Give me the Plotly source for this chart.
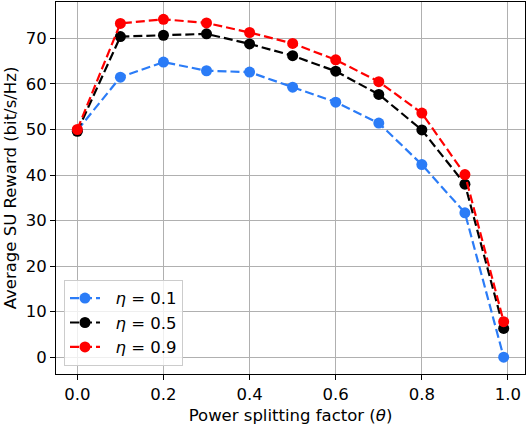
import plotly.graph_objs as go

# =============================================================================
# Data
# =============================================================================

theta = [0.0, 0.1, 0.2, 0.3, 0.4, 0.5, 0.6, 0.7, 0.8, 0.9, 0.99]

reward_eta_01 = [49.8, 61.5, 64.8, 62.9, 62.6, 59.3, 56.0, 51.4, 42.3, 31.7, 0.0]
reward_eta_05 = [49.6, 70.4, 70.7, 71.0, 68.8, 66.2, 62.8, 57.7, 49.9, 38.0, 6.3]
reward_eta_09 = [50.0, 73.3, 74.2, 73.4, 71.3, 68.9, 65.3, 60.5, 53.6, 40.1, 7.8]

names = ["<i>η</i> = 0.1", "<i>η</i> = 0.5", "<i>η</i> = 0.9"]
colors = ["#2b7cf7", "#000000", "#ff0000"]

x_ticks = [0.0, 0.2, 0.4, 0.6, 0.8, 1.0]
y_ticks = [0, 10, 20, 30, 40, 50, 60, 70]

FONT = "DejaVu Sans"

# =============================================================================
# Figure
# =============================================================================

fig = go.Figure()
for name, values, color in zip(names, [reward_eta_01, reward_eta_05, reward_eta_09], colors):
    fig.add_trace(go.Scatter(
        x=theta,
        y=values,
        # small leading gap between the legend symbol and the label
        name="&nbsp;&nbsp;" + name,
        mode="lines+markers",
        line=dict(color=color, width=2.2, dash="9px,4px"),
        marker=dict(color=color, size=11),
    ))

axis_common = dict(
    showgrid=True,
    gridcolor="#b0b0b0",
    gridwidth=1,
    showline=True,
    linecolor="black",
    linewidth=1,
    mirror=True,
    ticks="outside",
    ticklen=5,
    tickcolor="black",
    zeroline=False,
    automargin=False,
    tickfont=dict(family=FONT, size=16.5, color="black"),
)

fig.update_layout(
    width=528,
    height=426,
    plot_bgcolor="#FFFFFF",
    paper_bgcolor="#FFFFFF",
    margin=dict(l=56, r=3, t=2, b=52),
    font=dict(family=FONT, size=16.5, color="black"),
    xaxis=dict(
        axis_common,
        range=[-0.0495, 1.0395],
        tickvals=x_ticks,
        tickformat=".1f",
        title=dict(text="Power splitting factor (<i>θ</i>)", standoff=6,
                   font=dict(family=FONT, size=16.5)),
    ),
    yaxis=dict(
        axis_common,
        range=[-3.7, 78.0],
        tickvals=y_ticks,
        title=dict(text="Average SU Reward (bit/s/Hz)", standoff=4,
                   font=dict(family=FONT, size=16.5)),
    ),
    legend=dict(
        x=0.017,
        y=0.022,
        xanchor="left",
        yanchor="bottom",
        bgcolor="rgba(255,255,255,0.8)",
        bordercolor="#cccccc",
        borderwidth=1,
        font=dict(family=FONT, size=16.5),
    ),
)

fig.write_html("out.html", config=dict(displayModeBar=False),
               post_script="document.body.style.margin='0';")
